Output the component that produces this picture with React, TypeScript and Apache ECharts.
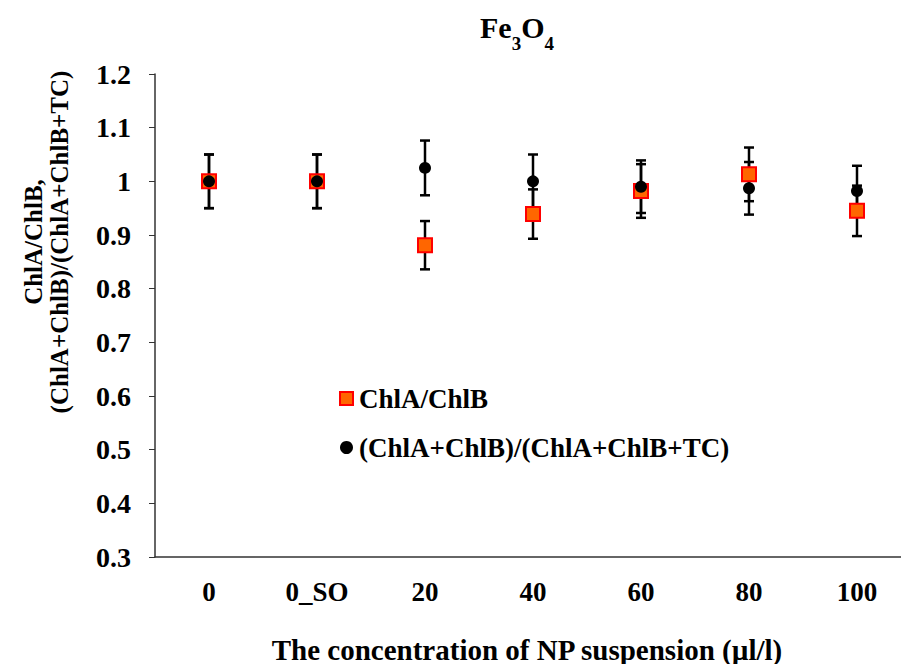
import React, { useEffect, useRef } from "react";
import * as echarts from "echarts";

const categories = ["0", "0_SO", "20", "40", "60", "80", "100"];
const ratioAB = [1.0, 1.0, 0.881, 0.939, 0.982, 1.013, 0.945];
const ratioABErr = [0.05, 0.05, 0.045, 0.046, 0.05, 0.05, 0.047];
const ratioTot = [1.0, 1.0, 1.025, 1.0, 0.99, 0.987, 0.982];
const ratioTotErr = [0.05, 0.05, 0.051, 0.05, 0.049, 0.049, 0.047];
const seriesNames = ["ChlA/ChlB", "(ChlA+ChlB)/(ChlA+ChlB+TC)"];

const FONT = "Liberation Serif";

function errData(vals: number[], errs: number[]) {
  return vals.map((v, i) => [i, v - errs[i], v + errs[i]]);
}

function errorRender(params: any, api: any) {
  const x = api.value(0);
  const lo = api.coord([x, api.value(1)]);
  const hi = api.coord([x, api.value(2)]);
  const w = 5;
  const style = { stroke: "#000", lineWidth: 2.5 };
  return {
    type: "group",
    children: [
      { type: "line", shape: { x1: hi[0], y1: hi[1], x2: lo[0], y2: lo[1] }, style },
      { type: "line", shape: { x1: hi[0] - w, y1: hi[1], x2: hi[0] + w, y2: hi[1] }, style },
      { type: "line", shape: { x1: lo[0] - w, y1: lo[1], x2: lo[0] + w, y2: lo[1] }, style },
    ],
  };
}

export default function App() {
  const ref = useRef<HTMLDivElement>(null);
  useEffect(() => {
    const chart = echarts.init(ref.current!, null, { renderer: "svg" });
    chart.setOption({
      animation: false,
      backgroundColor: "#fff",
      title: {
        text: "{b|Fe}{s|3}{b|O}{s|4}",
        left: 517,
        top: 10,
        padding: 0,
        textAlign: "center",
        textStyle: {
          fontFamily: FONT,
          fontWeight: "bold",
          fontSize: 30,
          color: "#000",
          rich: {
            b: { fontFamily: FONT, fontWeight: "bold", fontSize: 30, color: "#000", lineHeight: 34 },
            s: { fontFamily: FONT, fontWeight: "bold", fontSize: 19, color: "#000", lineHeight: 34, verticalAlign: "bottom", padding: [0, 0, -9, 0] },
          },
        },
      },
      legend: {
        orient: "vertical",
        left: 339,
        top: 385,
        padding: 0,
        itemGap: 22,
        itemWidth: 13,
        itemHeight: 13,
        data: [
          { name: seriesNames[0], icon: "rect" },
          { name: seriesNames[1], icon: "circle", itemStyle: { color: "#000" } },
        ],
        textStyle: { fontFamily: FONT, fontWeight: "bold", fontSize: 27, color: "#000", padding: [0, 0, 0, 1] },
      },
      grid: { left: 155, top: 74, width: 756, height: 483, containLabel: false, outerBoundsMode: "none" },
      xAxis: {
        type: "category",
        data: categories,
        boundaryGap: true,
        axisLine: { lineStyle: { color: "#333", width: 1.5 } },
        axisTick: { length: 8, lineStyle: { color: "#333" } },
        axisLabel: { fontFamily: FONT, fontWeight: "bold", fontSize: 27, color: "#000", margin: 21 },
        name: "The concentration of NP suspension (µl/l)",
        nameLocation: "middle",
        nameGap: 78,
        nameTextStyle: { fontFamily: FONT, fontWeight: "bold", fontSize: 29, color: "#000", padding: [0, 12, 0, 0] },
      },
      yAxis: {
        type: "value",
        min: 0.3,
        max: 1.2,
        interval: 0.1,
        splitLine: { show: false },
        axisLine: { show: true, lineStyle: { color: "#333", width: 1.5 } },
        axisTick: { show: true, length: 6, lineStyle: { color: "#333" } },
        axisLabel: {
          fontFamily: FONT, fontWeight: "bold", fontSize: 28, color: "#000", margin: 24,
          formatter: (v: number) => String(Math.round(v * 10) / 10),
        },
      },
      graphic: [
        {
          type: "text",
          x: 46,
          y: 242,
          rotation: Math.PI / 2,
          style: {
            text: "ChlA/ChlB,\n(ChlA+ChlB)/(ChlA+ChlB+TC)",
            fontFamily: FONT,
            fontWeight: "bold",
            fontSize: 25,
            lineHeight: 26,
            fill: "#000",
            align: "center",
            verticalAlign: "middle",
          },
        },
      ],
      series: [
        {
          type: "custom",
          renderItem: errorRender,
          data: errData(ratioAB, ratioABErr),
          encode: { x: 0, y: [1, 2] },
          z: 1,
          silent: true,
        },
        {
          type: "custom",
          renderItem: errorRender,
          data: errData(ratioTot, ratioTotErr),
          encode: { x: 0, y: [1, 2] },
          z: 1,
          silent: true,
        },
        {
          name: seriesNames[0],
          type: "scatter",
          symbol: "rect",
          symbolSize: 14,
          data: ratioAB,
          itemStyle: { color: "#FF6600", borderColor: "#FF0000", borderWidth: 2, opacity: 1 },
          z: 2,
        },
        {
          name: seriesNames[1],
          type: "scatter",
          symbol: "circle",
          symbolSize: 12,
          data: ratioTot,
          itemStyle: { color: "#000", opacity: 1 },
          z: 3,
        },
      ],
    });
    return () => chart.dispose();
  }, []);
  return (
    <div
      ref={ref}
      style={{ position: "fixed", left: 0, top: 0, width: 901, height: 664, background: "#fff" }}
    />
  );
}
